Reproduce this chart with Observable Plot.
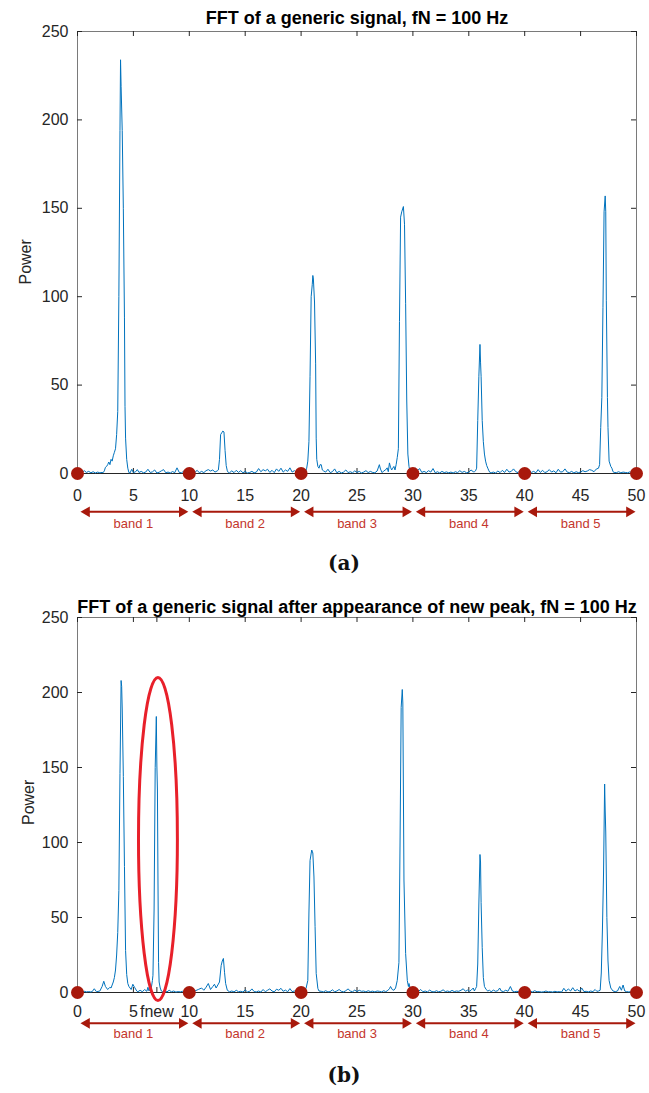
<!DOCTYPE html>
<html><head><meta charset="utf-8">
<script src="https://cdn.jsdelivr.net/npm/d3@7"></script>
<script src="https://cdn.jsdelivr.net/npm/@observablehq/plot@0.6"></script>
<style>
html,body{margin:0;padding:0;background:#fff;}
#wrap{position:relative;width:649px;height:1093px;overflow:hidden;font-family:"Liberation Sans",Arial,sans-serif;}
.panel{position:absolute;left:0;}
.cap{position:absolute;left:0;width:688px;text-align:center;font-family:"DejaVu Serif",serif;font-weight:bold;font-size:20px;line-height:24px;color:#111;}
</style></head><body><div id="wrap"></div>
<script>
// ---------- texts and ticks ----------
const titleA = "FFT of a generic signal, fN = 100 Hz";
const titleB = "FFT of a generic signal after appearance of new peak, fN = 100 Hz";
const yLabel = "Power";
const captions = ["(a)", "(b)"];
const bandEdges = [0, 10, 20, 30, 40, 50];
const bandNames = ["band 1", "band 2", "band 3", "band 4", "band 5"];
const yTicks = [0, 50, 100, 150, 200, 250];
const xTicksA = [0, 5, 10, 15, 20, 25, 30, 35, 40, 45, 50];
const xTickLabelsA = ["0", "5", "10", "15", "20", "25", "30", "35", "40", "45", "50"];
const xTicksB = [0, 5, 7.1, 10, 15, 20, 25, 30, 35, 40, 45, 50];
const xTickLabelsB = ["0", "5", "fnew", "10", "15", "20", "25", "30", "35", "40", "45", "50"];
// marked new peak (frequency, power, half extents)
const newPeakMark = {f: 7.24, p: 102, halfF: 1.74, halfP: 107.7};

// ---------- spectrum (a): [frequency Hz, power] ----------
const specA_band1 = [[0,0.3],[0.2,0.8],[0.4,0.5],[0.6,1.6],[0.8,0.6],[1.0,1.2],[1.2,0.4],[1.4,1.0],[1.6,0.3],[1.8,0.8],[2.0,0.4],[2.2,0.6],[2.3,0.5],[2.4,1.5],[2.5,3.5],[2.6,4],[2.7,5],[2.8,6.5],[2.9,5],[3.0,8],[3.1,7],[3.2,10],[3.3,12],[3.4,14],[3.5,22],[3.6,35],[3.7,100],[3.8,194],[3.85,234],[3.9,219],[4.0,194],[4.1,150],[4.2,88],[4.25,38],[4.3,20],[4.4,8],[4.5,3],[4.6,0.5],[4.7,0.3],[4.85,2.4],[5.0,0.5],[5.2,1.0],[5.35,2.2],[5.5,0.6],[5.7,1.2],[5.9,0.4],[6.1,0.8],[6.3,2.4],[6.5,0.6],[6.7,0.9],[6.9,2.0],[7.1,0.3],[7.3,0.7],[7.5,1.5],[7.7,2.2],[7.9,0.4],[8.1,0.8],[8.3,0.3],[8.5,1.1],[8.7,0.5],[8.9,3.2],[9.1,0.6],[9.3,0.4],[9.5,1.3],[9.7,0.3],[9.9,0.8]];
const specA_band2 = [[10.1,1.0],[10.3,2.8],[10.5,0.6],[10.7,1.8],[10.9,0.4],[11.1,1.2],[11.3,0.5],[11.5,1.6],[11.7,2.2],[11.9,1.4],[12.1,2.0],[12.3,0.8],[12.5,1.5],[12.6,2],[12.7,8],[12.8,22],[12.9,23],[13.0,24],[13.1,23.5],[13.2,13],[13.3,4.5],[13.4,1.5],[13.5,0.5],[13.6,0.4],[13.8,1.5],[14.0,0.5],[14.2,1.8],[14.4,0.6],[14.6,1.6],[14.8,0.4],[15.0,1.2],[15.2,0.3],[15.4,0.6],[15.6,1.2],[15.8,0.4],[16.0,0.8],[16.2,2.8],[16.4,1.0],[16.6,2.2],[16.8,1.5],[17.0,2.4],[17.2,0.6],[17.4,1.8],[17.6,0.5],[17.8,2.6],[18.0,1.2],[18.2,3.0],[18.4,0.8],[18.6,2.0],[18.8,1.2],[19.0,3.2],[19.2,0.8],[19.4,1.6],[19.6,0.5],[19.8,1.0],[20.0,0.4],[20.2,1.2],[20.3,0.6]];
const specA_band3 = [[20.4,1],[20.5,3],[20.6,7],[20.7,18],[20.8,55],[20.9,100],[21.0,107],[21.05,112],[21.1,110],[21.2,97],[21.3,62],[21.35,20],[21.4,8],[21.5,4],[21.6,3],[21.7,5],[21.8,5],[21.9,2],[22.0,1.5],[22.2,0.8],[22.4,2.4],[22.6,0.5],[22.8,1.0],[23.0,2.6],[23.2,0.4],[23.4,1.2],[23.6,0.3],[23.8,0.8],[24.0,2.0],[24.2,0.5],[24.4,1.0],[24.6,0.4],[24.8,1.5],[25.0,0.6],[25.2,1.2],[25.4,0.3],[25.6,0.8],[25.8,1.6],[26.0,0.5],[26.2,1.2],[26.4,0.6],[26.6,0.4],[26.8,1.4],[27.0,5.0],[27.1,2.5],[27.25,0.5],[27.4,1.5],[27.55,2.0],[27.7,3.2],[27.8,1.0],[27.9,6.0],[28.0,3.5],[28.1,2.0],[28.2,3.0],[28.3,4],[28.4,2],[28.5,5],[28.6,9],[28.7,14],[28.8,86],[28.9,145],[29.0,148],[29.15,151],[29.25,141],[29.35,96],[29.45,41],[29.55,11],[29.65,4],[29.75,1],[29.85,0.6],[30.0,1.2]];
const specA_band4 = [[30.2,3.2],[30.4,1.5],[30.6,2.8],[30.8,0.6],[31.0,1.2],[31.2,0.5],[31.4,1.6],[31.6,0.8],[31.8,2.8],[32.0,0.4],[32.2,1.0],[32.4,0.3],[32.6,1.2],[32.8,0.5],[33.0,0.9],[33.2,0.4],[33.4,0.8],[33.6,0.3],[33.8,1.0],[34.0,0.5],[34.2,1.6],[34.4,0.6],[34.6,1.2],[34.8,0.4],[35.0,0.8],[35.2,2.0],[35.4,1.0],[35.5,1],[35.6,1.5],[35.7,3],[35.8,30],[35.9,55],[36.0,73],[36.05,63],[36.1,55],[36.2,30],[36.3,18],[36.4,11],[36.5,7],[36.6,4.5],[36.7,3],[36.8,1.5],[36.9,0.5],[37.0,0.4],[37.2,0.8],[37.4,0.3],[37.6,1.4],[37.8,0.5],[38.0,1.8],[38.2,0.6],[38.4,2.4],[38.6,0.8],[38.8,1.2],[39.0,2.6],[39.2,1.0],[39.4,0.5],[39.6,1.8],[39.8,0.6],[40.0,1.0]];
const specA_band5 = [[40.2,0.5],[40.4,2.0],[40.6,0.6],[40.8,1.2],[41.0,0.4],[41.2,2.2],[41.4,0.6],[41.6,1.8],[41.8,0.5],[42.0,1.0],[42.2,2.2],[42.4,0.8],[42.6,1.5],[42.8,0.4],[43.0,2.4],[43.2,0.8],[43.4,1.0],[43.6,2.6],[43.8,0.8],[44.0,0.5],[44.2,1.2],[44.4,0.3],[44.6,1.0],[44.8,0.5],[45.0,0.8],[45.2,1.6],[45.4,1.0],[45.6,1.4],[45.8,2.2],[46.0,1.8],[46.2,1.0],[46.4,2.5],[46.6,3],[46.7,5],[46.8,26],[46.9,43],[47.0,94],[47.1,148],[47.2,157],[47.25,148],[47.3,98],[47.4,43],[47.45,26],[47.55,7],[47.7,4],[47.8,3],[47.9,1],[48.0,0.6],[48.2,0.5],[48.4,1.0],[48.6,0.4],[48.8,0.8],[49.0,0.6],[49.2,0.4],[49.4,0.9],[49.6,0.5],[49.8,0.3],[50.0,0.6]];

// ---------- spectrum (b): [frequency Hz, power] ----------
const specB_band1 = [[0,0.3],[0.2,0.6],[0.4,0.3],[0.6,0.8],[0.8,0.4],[1.0,0.6],[1.15,0.4],[1.3,0.5],[1.5,2.5],[1.7,0.5],[2.0,1],[2.2,4],[2.35,7.5],[2.5,4],[2.7,2],[2.9,3.5],[3.0,3],[3.1,5],[3.2,7],[3.3,10],[3.4,15],[3.5,25],[3.6,40],[3.7,68],[3.8,146],[3.9,208],[3.95,204],[4.0,189],[4.1,144],[4.2,84],[4.3,28],[4.4,12],[4.5,6],[4.6,4],[4.8,2],[4.95,5.5],[5.1,3.5],[5.3,1],[5.4,0.5],[5.6,1.5],[5.8,0.5],[6.0,2.0],[6.2,0.8],[6.3,3.5],[6.4,1],[6.5,2.5],[6.6,3],[6.7,8],[6.75,11.5],[6.85,55],[6.95,150],[7.05,184],[7.1,151],[7.15,135],[7.2,73],[7.25,20],[7.3,7],[7.4,3],[7.5,1],[7.6,0.6],[7.8,1.2],[8.0,0.4],[8.2,1.5],[8.4,0.5],[8.6,1.0],[8.8,0.3],[9.0,0.6],[9.2,0.4],[9.4,0.8],[9.6,0.3],[9.8,0.5],[10.0,0.4]];
const specB_band2 = [[10.2,0.6],[10.35,0.4],[10.5,1],[10.8,2],[11.1,3],[11.3,1.5],[11.5,3.5],[11.7,6],[11.9,2],[12.1,4],[12.25,5.5],[12.4,3],[12.55,5],[12.7,7],[12.85,18],[12.95,21],[13.05,22.7],[13.15,13.5],[13.25,6],[13.4,1.5],[13.6,0.5],[13.8,1.0],[14.0,0.4],[14.2,1.5],[14.4,0.5],[14.6,0.8],[14.8,0.3],[15.0,1.8],[15.2,0.4],[15.4,0.8],[15.6,2.4],[15.8,0.6],[16.0,0.4],[16.2,1.0],[16.4,0.3],[16.6,2.0],[16.8,0.5],[17.0,1.5],[17.2,2.4],[17.4,1.0],[17.6,0.4],[17.8,2.2],[18.0,1.5],[18.2,2.8],[18.4,0.8],[18.6,1.6],[18.8,0.5],[19.0,2.6],[19.2,0.6],[19.4,1.0],[19.6,0.4],[19.8,0.8],[20.0,0.4],[20.15,0.6]];
const specB_band3 = [[20.3,1],[20.45,3],[20.6,8],[20.7,53],[20.8,88],[20.95,95],[21.05,93],[21.15,77],[21.25,44],[21.35,12.7],[21.5,2.7],[21.6,1],[21.8,0.8],[22.0,0.4],[22.2,1.2],[22.4,0.4],[22.6,0.6],[22.8,1.8],[23.0,0.5],[23.2,1.0],[23.4,2.0],[23.6,0.8],[23.8,0.4],[24.0,1.2],[24.2,2.4],[24.4,1.0],[24.6,0.5],[24.8,1.6],[25.0,0.6],[25.2,1.5],[25.4,0.8],[25.6,1.0],[25.8,0.4],[26.0,1.2],[26.2,0.6],[26.4,0.9],[26.6,0.4],[26.8,1.0],[27.0,0.8],[27.2,0.4],[27.4,1.2],[27.55,0.6],[27.7,1],[27.9,2.5],[28.0,4],[28.15,2],[28.3,1.5],[28.45,3],[28.6,8],[28.75,20],[28.85,99],[28.95,190],[29.05,202],[29.1,193],[29.2,75],[29.35,26],[29.5,8],[29.6,4],[29.65,6],[29.75,2.5],[29.9,1]];
const specB_band4 = [[30.1,1.0],[30.3,2.8],[30.5,0.8],[30.7,2.0],[30.9,0.5],[31.1,1.0],[31.3,0.4],[31.5,1.6],[31.7,0.6],[31.9,0.4],[32.1,1.2],[32.3,0.5],[32.5,0.8],[32.7,1.8],[32.9,0.6],[33.1,1.0],[33.3,0.5],[33.5,1.4],[33.7,0.6],[33.9,1.0],[34.1,0.8],[34.3,1.5],[34.5,2.5],[34.7,0.8],[34.9,1.6],[35.05,0.8],[35.2,1.5],[35.4,3],[35.5,1],[35.6,2.5],[35.7,4],[35.8,19],[35.9,59],[36.0,92],[36.05,87],[36.1,60],[36.2,30],[36.3,10],[36.4,4],[36.55,2],[36.7,1],[36.85,1.5],[37.0,0.5],[37.2,1.6],[37.4,0.8],[37.6,1.2],[37.76,3.0],[37.9,1.0],[38.1,0.6],[38.3,1.5],[38.5,0.8],[38.72,4.0],[38.9,1.0],[39.1,0.5],[39.3,0.8],[39.5,0.4],[39.7,0.6],[39.9,0.3]];
const specB_band5 = [[40.1,0.5],[40.3,0.3],[40.5,0.8],[40.7,0.4],[40.9,1.2],[41.1,0.5],[41.3,0.6],[41.5,0.3],[41.7,0.5],[41.9,1.0],[42.1,0.4],[42.3,0.6],[42.5,0.3],[42.7,0.8],[42.9,0.4],[43.1,0.6],[43.3,0.3],[43.5,2.8],[43.7,0.8],[43.9,2.4],[44.1,1.0],[44.3,3.2],[44.5,1.0],[44.7,2.0],[44.9,0.8],[45.1,3.0],[45.3,0.6],[45.5,0.8],[45.7,0.4],[45.9,1.0],[46.1,0.6],[46.3,2.0],[46.45,0.8],[46.6,1],[46.75,1.5],[46.85,13],[46.95,41],[47.05,79],[47.15,139],[47.2,121],[47.25,107],[47.35,50],[47.45,21],[47.55,8],[47.7,3],[47.9,1],[48.1,0.6],[48.3,1.0],[48.5,4.0],[48.65,1.5],[48.8,5.0],[48.95,1.0],[49.1,0.6],[49.3,0.4],[49.5,0.5],[49.7,0.3],[49.85,1.0],[50.0,0.5]];

// ---------- drawing ----------
const FONT = '"Liberation Sans", Arial, Helvetica, sans-serif';
const RED_DARK = "#a8190c";
const RED_TEXT = "#c4362c";
const BLUE = "#0072BD";
const AXIS = "#262626";

function makePanel(o) {
  const W = 649, ML = 77, MR = 13;
  const FW = W - ML - MR;
  const bands = bandNames.map((name, i) => ({name, x1: bandEdges[i], x2: bandEdges[i + 1], mid: (bandEdges[i] + bandEdges[i + 1]) / 2}));
  const data = o.spectrum.map(([f, p]) => ({f, p})).sort((a, b) => a.f - b.f);
  const plot = Plot.plot({
    width: W,
    height: o.marginTop + o.frameH + o.marginBottom,
    marginLeft: ML, marginRight: MR, marginTop: o.marginTop, marginBottom: o.marginBottom,
    x: {domain: [0, 50]},
    y: {domain: [0, 250]},
    style: {fontFamily: FONT, fontSize: "16px", color: AXIS, background: "#fff", overflow: "visible"},
    marks: [
      Plot.frame({stroke: "#7a7a7a", strokeWidth: 1}),
      Plot.tickX(o.xTicks, {x: d => d, insetTop: o.frameH - 5, stroke: AXIS}),
      Plot.tickX(o.xTicks, {x: d => d, insetBottom: o.frameH - 5, stroke: AXIS}),
      Plot.tickY(yTicks, {y: d => d, insetRight: FW - 5, stroke: AXIS}),
      Plot.tickY(yTicks, {y: d => d, insetLeft: FW - 5, stroke: AXIS}),
      Plot.ruleY([0], {stroke: AXIS}),
      Plot.axisX({ticks: o.xTicks, tickFormat: d => o.xTickLabels[o.xTicks.indexOf(d)], tickSize: 0, tickPadding: o.tickPad, label: null, fontSize: 16, fill: AXIS}),
      Plot.axisY({ticks: yTicks, tickSize: 0, tickPadding: 9, label: null, fontSize: 16, fill: AXIS}),
      Plot.line(data, {x: "f", y: "p", stroke: BLUE, strokeWidth: 1}),
      Plot.dot(bandEdges, {x: d => d, y: 0, r: 6.5, fill: RED_DARK, stroke: "none"}),
      Plot.ruleY(bands, {x1: "x1", x2: "x2", y: 0, dy: o.arrowDy, insetLeft: 9, insetRight: 7, stroke: RED_DARK, strokeWidth: 2}),
      Plot.dot(bands, {x: "x1", y: 0, dy: o.arrowDy, dx: 9.2, symbol: "triangle", rotate: -90, r: 4, fill: RED_DARK, stroke: "none"}),
      Plot.dot(bands, {x: "x2", y: 0, dy: o.arrowDy, dx: -7.2, symbol: "triangle", rotate: 90, r: 4, fill: RED_DARK, stroke: "none"}),
      Plot.text(bands, {x: "mid", y: 0, dy: o.labelDy, text: "name", fontSize: 13, fill: RED_TEXT}),
      Plot.text([o.title], {frameAnchor: "top", dy: o.titleDy, text: d => d, fontSize: 18, fontWeight: "bold", fill: "#000"}),
      Plot.text([yLabel], {frameAnchor: "left", dx: o.ylabelDx, dy: o.ylabelDy, rotate: -90, text: d => d, fontSize: 16, fill: AXIS})
    ]
  });
  plot.classList.add("panel");
  plot.style.top = o.top + "px";
  plot.style.position = "absolute";
  return plot;
}

const wrap = document.getElementById("wrap");

const plotA = makePanel({
  spectrum: [...specA_band1, ...specA_band2, ...specA_band3, ...specA_band4, ...specA_band5],
  title: titleA, xTicks: xTicksA, xTickLabels: xTickLabelsA,
  top: 0, marginTop: 31, frameH: 442, marginBottom: 75,
  tickPad: 16, arrowDy: 38.3, labelDy: 50, titleDy: -20, ylabelDx: -52, ylabelDy: 32
});
wrap.appendChild(plotA);

const plotB = makePanel({
  spectrum: [...specB_band1, ...specB_band2, ...specB_band3, ...specB_band4, ...specB_band5],
  title: titleB, xTicks: xTicksB, xTickLabels: xTickLabelsB,
  top: 587, marginTop: 30, frameH: 375, marginBottom: 66,
  tickPad: 13.5, arrowDy: 30.8, labelDy: 41.8, titleDy: -17, ylabelDx: -49, ylabelDy: 20
});
wrap.appendChild(plotB);

// red ellipse around the new peak, placed with the plot's own scales
{
  const sx = plotB.scale("x"), sy = plotB.scale("y");
  const m = newPeakMark;
  const cx = sx.apply(m.f), cy = sy.apply(m.p);
  d3.select(plotB).append("ellipse")
    .attr("cx", cx).attr("cy", cy)
    .attr("rx", Math.abs(sx.apply(m.f + m.halfF) - cx))
    .attr("ry", Math.abs(sy.apply(m.p + m.halfP) - cy))
    .attr("fill", "none").attr("stroke", "#e8202a").attr("stroke-width", 3);
}

// captions
[[captions[0], 551], [captions[1], 1063]].forEach(([t, y]) => {
  const d = document.createElement("div");
  d.className = "cap"; d.style.top = y + "px"; d.textContent = t;
  wrap.appendChild(d);
});
</script></body></html>
